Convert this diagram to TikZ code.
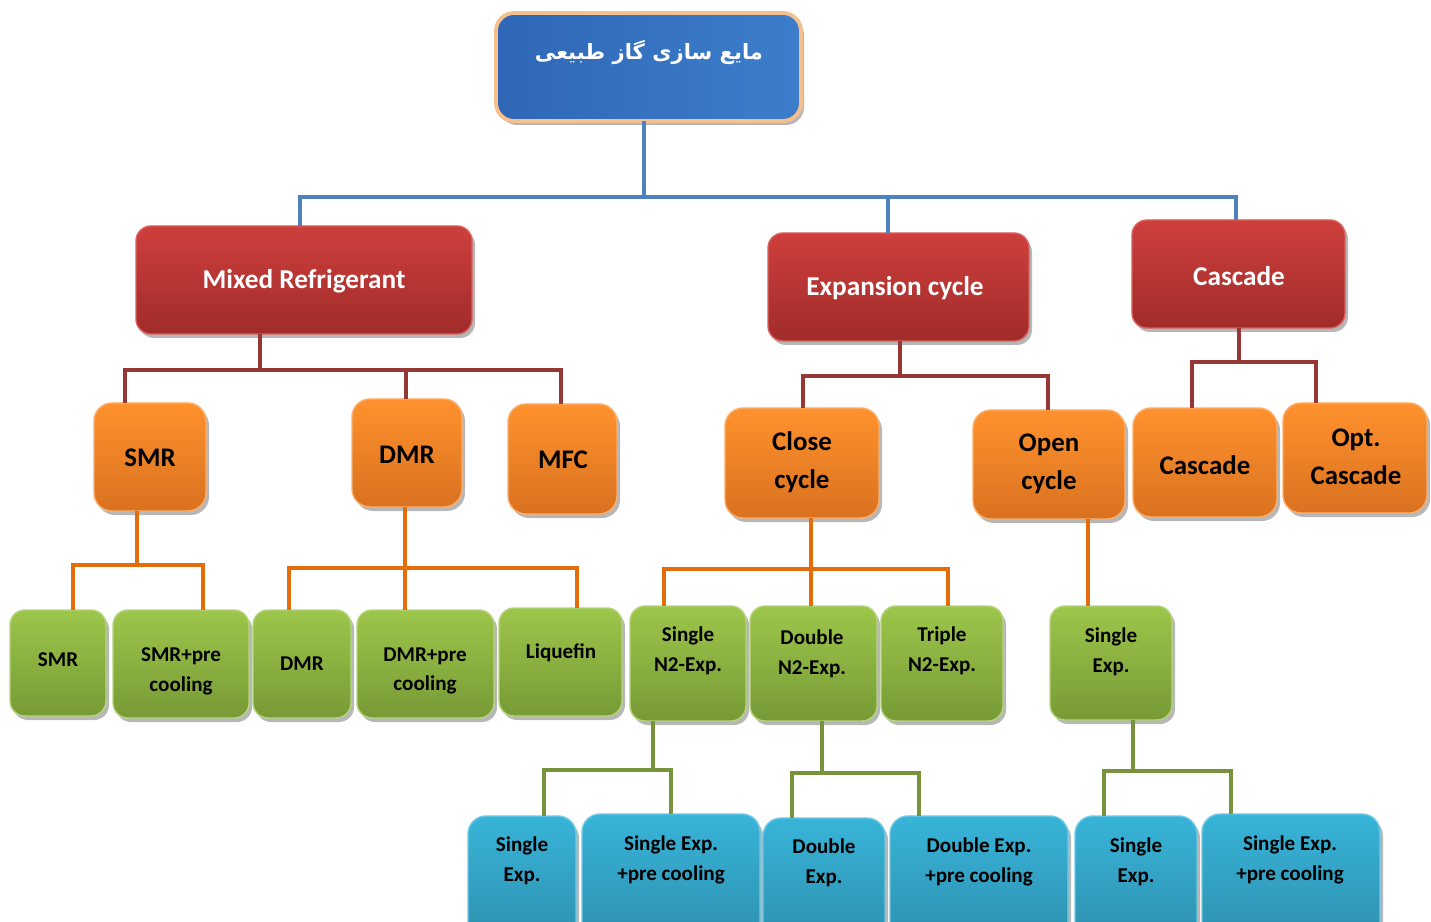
\documentclass[tikz,border=0pt]{standalone}
\usepackage{fontspec}
\setmainfont{Carlito}
\newfontfamily\arabicfont[Script=Arabic]{DejaVu Sans}
\TeXXeTstate=1
\usetikzlibrary{shadows}

\newdimen\pu \pu=0.02cm

% palette
\definecolor{topA}{HTML}{2F67B6}
\definecolor{topB}{HTML}{3C7ECB}
\definecolor{topEdge}{HTML}{F6C08E}
\definecolor{redA}{HTML}{CE3F3C}
\definecolor{redB}{HTML}{A02C2A}
\definecolor{redEdge}{HTML}{D9605C}
\definecolor{orA}{HTML}{FF922E}
\definecolor{orB}{HTML}{D9711F}
\definecolor{orEdge}{HTML}{FBAE6A}
\definecolor{grA}{HTML}{9DC64B}
\definecolor{grB}{HTML}{779A36}
\definecolor{grEdge}{HTML}{B5D57A}
\definecolor{cyA}{HTML}{38B4D9}
\definecolor{cyB}{HTML}{2C8BA9}
\definecolor{cyEdge}{HTML}{6FC9E4}
\definecolor{lnBlue}{HTML}{4F81BD}
\definecolor{lnRed}{HTML}{953735}
\definecolor{lnOrange}{HTML}{E46C0A}
\definecolor{lnGreen}{HTML}{77933C}

% box from corner coordinates: name, style, x1, y1, x2, y2
\newcommand\tbox[6]{%
  \node[box,#2,minimum width={(#5-#3)*\pu},minimum height={(#6-#4)*\pu}]
    (#1) at ({(#3+#5)/2},{(#4+#6)/2}) {};}

\begin{document}
\begin{tikzpicture}[x=0.02cm,y=-0.02cm,
  box/.style={rectangle,rounded corners=15\pu,inner sep=0pt,outer sep=0pt,
    line width=0.8pt,
    drop shadow={shadow xshift=3\pu,shadow yshift=-4\pu,fill=black!40,opacity=0.7}},
  topbox/.style={left color=topA,right color=topB,draw=topEdge,line width=2.2pt,rounded corners=18\pu},
  redbox/.style={top color=redA,bottom color=redB,draw=redEdge},
  orbox/.style={top color=orA,bottom color=orB,draw=orEdge,rounded corners=18\pu},
  grbox/.style={top color=grA,bottom color=grB,draw=grEdge},
  cybox/.style={top color=cyA,bottom color=cyB,draw=cyEdge,rounded corners=18\pu},
  txt/.style={inner sep=0pt,align=center,font=\bfseries\fontsize{12}{17}\selectfont},
  wtxt/.style={txt,text=white,font=\bfseries\fontsize{15.5}{20}\selectfont},
  otxt/.style={txt,font=\bfseries\fontsize{15.3}{21.5}\selectfont},
  conn/.style={line width=4\pu,line join=miter},
  cBlue/.style={conn,draw=lnBlue},
  cRed/.style={conn,draw=lnRed},
  cOrange/.style={conn,draw=lnOrange},
  cGreen/.style={conn,draw=lnGreen}]

\clip (0,0) rectangle (1431,922);
\fill[white] (0,0) rectangle (1431,922);

% ---- root
\tbox{root}{topbox}{496}{13}{801}{121}
\node[inner sep=0pt,text=white] (t-root) at (649,52)
  {\arabicfont\bfseries\fontsize{12}{16}\selectfont\beginR مایع سازی گاز طبیعی\endR};

% ---- level 1
\tbox{mr}{redbox}{136}{226}{472}{334}
\tbox{ec}{redbox}{768}{233}{1029}{341}
\tbox{cas}{redbox}{1132}{220}{1345}{328}
\node[wtxt] (t-mr) at (304,281) {Mixed Refrigerant};
\node[wtxt] (t-ec) at (895,288) {Expansion cycle};
\node[wtxt] (t-cas) at (1239,276) {Cascade};

% ---- level 2
\tbox{smr}{orbox}{94}{403}{206}{511}
\tbox{dmr}{orbox}{352}{399}{462}{507}
\tbox{mfc}{orbox}{508}{404}{617}{514}
\tbox{close}{orbox}{725}{408}{879}{518}
\tbox{open}{orbox}{973}{410}{1125}{519}
\tbox{cas2}{orbox}{1133}{408}{1277}{517}
\tbox{opt}{orbox}{1283}{403}{1427}{513}
\node[otxt] (t-smr) at (150,458) {SMR};
\node[otxt] (t-dmr) at (407,455) {DMR};
\node[otxt] (t-mfc) at (563,460) {MFC};
\node[otxt] (t-close) at (802,462) {Close\\cycle};
\node[otxt] (t-open) at (1049,464) {Open\\cycle};
\node[otxt] (t-cas2) at (1205,465) {Cascade};
\node[otxt] (t-opt) at (1356,457) {Opt.\\Cascade};

% ---- level 3
\tbox{g1}{grbox}{10}{610}{106}{716}
\tbox{g2}{grbox}{113}{610}{249}{718}
\tbox{g3}{grbox}{253}{610}{351}{718}
\tbox{g4}{grbox}{357}{610}{494}{718}
\tbox{g5}{grbox}{499}{608}{622}{716}
\tbox{g6}{grbox}{630}{606}{746}{721}
\tbox{g7}{grbox}{750}{606}{877}{721}
\tbox{g8}{grbox}{881}{606}{1003}{721}
\tbox{g9}{grbox}{1050}{606}{1172}{720}
\node[txt] (t-g1) at (58,660) {SMR};
\node[txt] (t-g2) at (181,671) {SMR+pre\\cooling};
\node[txt] (t-g3) at (302,664) {DMR};
\node[txt] (t-g4) at (425,671) {DMR+pre\\cooling};
\node[txt] (t-g5) at (561,653) {Liquefin};
\node[txt] (t-g6) at (688,651) {Single\\N2-Exp.};
\node[txt] (t-g7) at (812,654) {Double\\N2-Exp.};
\node[txt] (t-g8) at (942,651) {Triple\\N2-Exp.};
\node[txt] (t-g9) at (1111,652) {Single\\Exp.};

% ---- level 4 (runs past the lower edge)
\tbox{b1}{cybox}{468}{816}{576}{960}
\tbox{b2}{cybox}{582}{814}{760}{960}
\tbox{b3}{cybox}{763}{818}{885}{960}
\tbox{b4}{cybox}{890}{816}{1068}{960}
\tbox{b5}{cybox}{1075}{816}{1197}{960}
\tbox{b6}{cybox}{1202}{814}{1380}{960}
\node[txt] (t-b1) at (522,861) {Single\\Exp.};
\node[txt] (t-b2) at (671,860) {Single Exp.\\+pre cooling};
\node[txt] (t-b3) at (824,863) {Double\\Exp.};
\node[txt] (t-b4) at (979,862) {Double Exp.\\+pre cooling};
\node[txt] (t-b5) at (1136,862) {Single\\Exp.};
\node[txt] (t-b6) at (1290,860) {Single Exp.\\+pre cooling};

% ---- connectors
\coordinate (j0) at (644,197);
\draw[cBlue] (root.south -| j0) -- (j0);
\draw[cBlue] (j0) -| (mr.north -| 300,0);
\draw[cBlue] (j0) -| (ec.north -| 888,0);
\draw[cBlue] (j0) -| (cas.north -| 1236,0);

\coordinate (j1) at (260,370);
\draw[cRed] (mr.south -| j1) -- (j1);
\draw[cRed] (j1) -| (smr.north -| 125,0);
\draw[cRed] (j1) -| (dmr.north -| 406,0);
\draw[cRed] (j1) -| (mfc.north -| 561,0);

\coordinate (j2) at (900,376);
\draw[cRed] (ec.south -| j2) -- (j2);
\draw[cRed] (j2) -| (close.north -| 803,0);
\draw[cRed] (j2) -| (open.north -| 1048,0);

\coordinate (j3) at (1239,362);
\draw[cRed] (cas.south -| j3) -- (j3);
\draw[cRed] (j3) -| (cas2.north -| 1192,0);
\draw[cRed] (j3) -| (opt.north -| 1316,0);

\coordinate (j4) at (137,565);
\draw[cOrange] (smr.south -| j4) -- (j4);
\draw[cOrange] (j4) -| (g1.north -| 73,0);
\draw[cOrange] (j4) -| (g2.north -| 203,0);

\coordinate (j5) at (405,568);
\draw[cOrange] (dmr.south -| j5) -- (j5);
\draw[cOrange] (j5) -| (g3.north -| 289,0);
\draw[cOrange] (j5) -| (g4.north -| 405,0);
\draw[cOrange] (j5) -| (g5.north -| 577,0);

\coordinate (j6) at (811,569);
\draw[cOrange] (close.south -| j6) -- (j6);
\draw[cOrange] (j6) -| (g6.north -| 664,0);
\draw[cOrange] (j6) -| (g7.north -| 811,0);
\draw[cOrange] (j6) -| (g8.north -| 948,0);

\draw[cOrange] (open.south -| 1088,0) -- (g9.north -| 1088,0);

\coordinate (j7) at (653,770);
\draw[cGreen] (g6.south -| j7) -- (j7);
\draw[cGreen] (j7) -| (b1.north -| 544,0);
\draw[cGreen] (j7) -| (b2.north -| 671,0);

\coordinate (j8) at (822,773);
\draw[cGreen] (g7.south -| j8) -- (j8);
\draw[cGreen] (j8) -| (b3.north -| 792,0);
\draw[cGreen] (j8) -| (b4.north -| 919,0);

\coordinate (j9) at (1133,771);
\draw[cGreen] (g9.south -| j9) -- (j9);
\draw[cGreen] (j9) -| (b5.north -| 1104,0);
\draw[cGreen] (j9) -| (b6.north -| 1231,0);

\end{tikzpicture}
\end{document}
